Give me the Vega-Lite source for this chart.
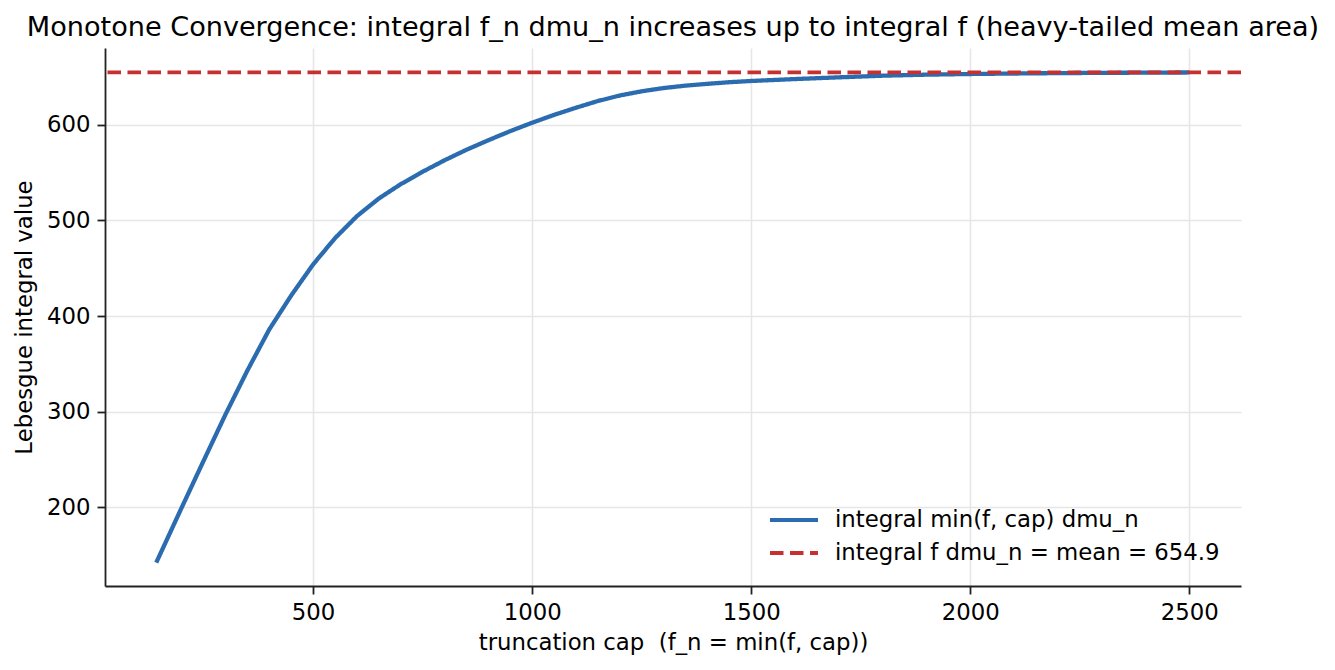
{
  "$schema": "https://vega.github.io/schema/vega-lite/v6.json",
  "width": 1136,
  "height": 538,
  "autosize": {"type": "none"},
  "padding": {"left": 105, "top": 48, "right": 94, "bottom": 84},
  "background": "white",
  "title": {
    "text": "Monotone Convergence: integral f_n dmu_n increases up to integral f (heavy-tailed mean area)",
    "fontSize": 27.1,
    "fontWeight": "normal",
    "font": "DejaVu Sans",
    "color": "#000000",
    "anchor": "middle",
    "frame": "group",
    "baseline": "alphabetic",
    "offset": 13,
    "dy": 28
  },
  "config": {
    "font": "DejaVu Sans",
    "view": {"stroke": null},
    "axis": {
      "domainColor": "#222222",
      "domainWidth": 1.8,
      "tickColor": "#222222",
      "tickWidth": 1.8,
      "tickSize": 8,
      "labelFontSize": 22.8,
      "labelColor": "#000000",
      "labelPadding": 7,
      "titleFontSize": 22.8,
      "titleFontWeight": "normal",
      "titleColor": "#000000",
      "gridColor": "#e6e6e6",
      "gridWidth": 1.6
    },
    "legend": {
      "orient": "none",
      "legendX": 675,
      "legendY": 458,
      "padding": 0,
      "labelFontSize": 22.8,
      "labelColor": "#000000",
      "labelFont": "DejaVu Sans",
      "symbolType": "M-2,0H2",
      "symbolSize": 576,
      "symbolStrokeWidth": 4,
      "labelOffset": 27,
      "rowPadding": 7,
      "labelLimit": 600
    }
  },
  "layer": [
    {
      "data": {
        "values": [
          {"cap": 142, "val": 142, "s": "integral min(f, cap) dmu_n"},
          {"cap": 200, "val": 199.5, "s": "integral min(f, cap) dmu_n"},
          {"cap": 250, "val": 248.5, "s": "integral min(f, cap) dmu_n"},
          {"cap": 300, "val": 297, "s": "integral min(f, cap) dmu_n"},
          {"cap": 350, "val": 343, "s": "integral min(f, cap) dmu_n"},
          {"cap": 400, "val": 386, "s": "integral min(f, cap) dmu_n"},
          {"cap": 450, "val": 421.5, "s": "integral min(f, cap) dmu_n"},
          {"cap": 500, "val": 454, "s": "integral min(f, cap) dmu_n"},
          {"cap": 550, "val": 481.5, "s": "integral min(f, cap) dmu_n"},
          {"cap": 600, "val": 504.5, "s": "integral min(f, cap) dmu_n"},
          {"cap": 650, "val": 523, "s": "integral min(f, cap) dmu_n"},
          {"cap": 700, "val": 538, "s": "integral min(f, cap) dmu_n"},
          {"cap": 750, "val": 551, "s": "integral min(f, cap) dmu_n"},
          {"cap": 800, "val": 563, "s": "integral min(f, cap) dmu_n"},
          {"cap": 850, "val": 574, "s": "integral min(f, cap) dmu_n"},
          {"cap": 900, "val": 584, "s": "integral min(f, cap) dmu_n"},
          {"cap": 950, "val": 593.5, "s": "integral min(f, cap) dmu_n"},
          {"cap": 1000, "val": 602.3, "s": "integral min(f, cap) dmu_n"},
          {"cap": 1050, "val": 610.5, "s": "integral min(f, cap) dmu_n"},
          {"cap": 1100, "val": 618, "s": "integral min(f, cap) dmu_n"},
          {"cap": 1150, "val": 625, "s": "integral min(f, cap) dmu_n"},
          {"cap": 1200, "val": 630.8, "s": "integral min(f, cap) dmu_n"},
          {"cap": 1250, "val": 635.2, "s": "integral min(f, cap) dmu_n"},
          {"cap": 1300, "val": 638.6, "s": "integral min(f, cap) dmu_n"},
          {"cap": 1350, "val": 641.1, "s": "integral min(f, cap) dmu_n"},
          {"cap": 1400, "val": 643, "s": "integral min(f, cap) dmu_n"},
          {"cap": 1450, "val": 644.7, "s": "integral min(f, cap) dmu_n"},
          {"cap": 1500, "val": 646, "s": "integral min(f, cap) dmu_n"},
          {"cap": 1600, "val": 648, "s": "integral min(f, cap) dmu_n"},
          {"cap": 1700, "val": 649.8, "s": "integral min(f, cap) dmu_n"},
          {"cap": 1800, "val": 651.5, "s": "integral min(f, cap) dmu_n"},
          {"cap": 1900, "val": 652.6, "s": "integral min(f, cap) dmu_n"},
          {"cap": 2000, "val": 653.3, "s": "integral min(f, cap) dmu_n"},
          {"cap": 2100, "val": 653.8, "s": "integral min(f, cap) dmu_n"},
          {"cap": 2200, "val": 654.2, "s": "integral min(f, cap) dmu_n"},
          {"cap": 2300, "val": 654.5, "s": "integral min(f, cap) dmu_n"},
          {"cap": 2400, "val": 654.7, "s": "integral min(f, cap) dmu_n"},
          {"cap": 2500, "val": 654.9, "s": "integral min(f, cap) dmu_n"}
        ]
      },
      "mark": {"type": "line", "strokeWidth": 4.3, "clip": true},
      "encoding": {
        "x": {
          "field": "cap",
          "type": "quantitative",
          "scale": {"domain": [25, 2618], "nice": false, "zero": false},
          "axis": {
            "values": [500, 1000, 1500, 2000, 2500],
            "format": "d",
            "title": "truncation cap \u00a0(f_n = min(f, cap))",
            "titlePadding": 8
          }
        },
        "y": {
          "field": "val",
          "type": "quantitative",
          "scale": {"domain": [117.5, 680.5], "nice": false, "zero": false},
          "axis": {
            "values": [200, 300, 400, 500, 600],
            "format": "d",
            "title": "Lebesgue integral value",
            "titlePadding": 10
          }
        },
        "color": {
          "field": "s",
          "type": "nominal",
          "scale": {
            "domain": ["integral min(f, cap) dmu_n", "integral f dmu_n = mean = 654.9"],
            "range": ["#2b6cb0", "#c53030"]
          },
          "legend": {"title": null}
        },
        "strokeDash": {
          "field": "s",
          "type": "nominal",
          "scale": {
            "domain": ["integral min(f, cap) dmu_n", "integral f dmu_n = mean = 654.9"],
            "range": [[1, 0], [13.5, 6.5]]
          },
          "legend": {"title": null}
        }
      }
    },
    {
      "data": {
        "values": [
          {"mean": 654.9, "s": "integral f dmu_n = mean = 654.9"}
        ]
      },
      "mark": {"type": "rule", "strokeWidth": 3.8},
      "encoding": {
        "y": {"field": "mean", "type": "quantitative"},
        "color": {"field": "s", "type": "nominal"},
        "strokeDash": {"field": "s", "type": "nominal"}
      }
    }
  ]
}
